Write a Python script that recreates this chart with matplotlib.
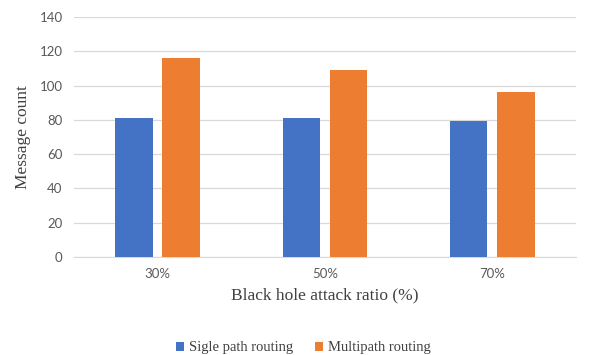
import matplotlib
matplotlib.use("Agg")
import matplotlib.pyplot as plt
import numpy as np

categories = ["30%", "50%", "70%"]
single_path = [81, 81, 79.6]
multipath = [116.3, 109.1, 96.5]
series_names = ["Sigle path routing", "Multipath routing"]
yticks = [0, 20, 40, 60, 80, 100, 120, 140]

fig = plt.figure(figsize=(6.0, 3.55), dpi=100)
ax = fig.add_axes([0.123, 0.276, 0.837, 0.676])

x = np.arange(len(categories))
w = 0.224
off = 0.141
ax.bar(x - off, single_path, width=w, color="#4472C4", label=series_names[0], zorder=3)
ax.bar(x + off, multipath, width=w, color="#ED7D31", label=series_names[1], zorder=3)

ax.set_xlim(-0.5, 2.5)
ax.set_ylim(0, 140)
ax.set_yticks(yticks)
ax.set_xticks(x)
ax.set_xticklabels(categories)
ax.grid(axis="y", color="#D9D9D9", linewidth=0.9, zorder=0)
for s in ["top", "right", "left"]:
    ax.spines[s].set_visible(False)
ax.spines["bottom"].set_color("#D9D9D9")
ax.tick_params(axis="both", length=0, labelsize=9.5, labelcolor="#595959", pad=8)
for lab in ax.get_xticklabels() + ax.get_yticklabels():
    lab.set_fontfamily(["Lato", "DejaVu Sans"])

ax.set_ylabel("Message count", fontsize=12.5, family="Liberation Serif", color="#404040", labelpad=6)
ax.set_xlabel("Black hole attack ratio (%)", fontsize=12.5, family="Liberation Serif", color="#404040", labelpad=5)

leg = fig.legend(loc="center", bbox_to_anchor=(0.505, 0.02), ncol=2, frameon=False,
                 prop={"family": "Liberation Serif", "size": 10.5}, handlelength=0.6,
                 handleheight=0.6, handletextpad=0.3, columnspacing=1.5)
for t in leg.get_texts():
    t.set_color("#404040")

fig.savefig("out.png", dpi=100)
